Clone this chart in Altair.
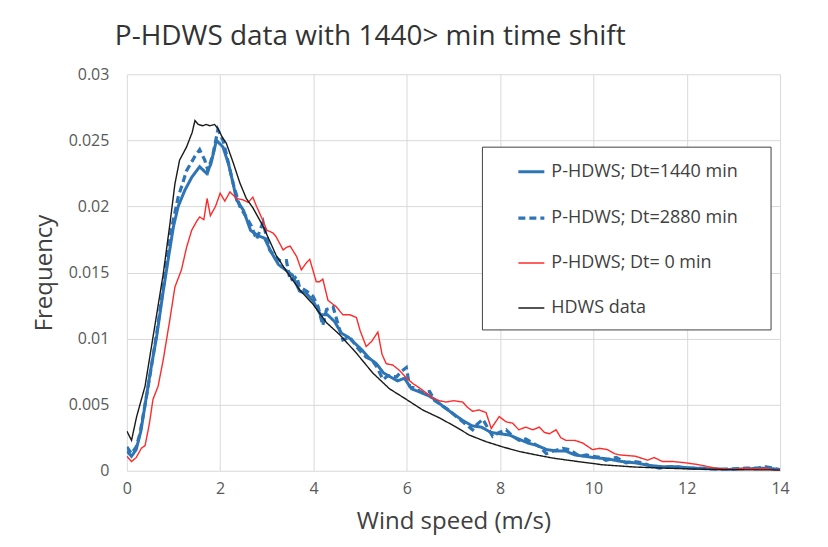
import altair as alt
import pandas as pd

# ---------------- data ----------------
series_names = ["P-HDWS; Dt=1440 min", "P-HDWS; Dt=2880 min", "P-HDWS; Dt= 0 min", "HDWS data"]

x_1440 = [0, 0.1, 0.2, 0.3, 0.4, 0.5, 0.64, 0.78, 0.9, 1.0, 1.1, 1.24, 1.39, 1.56, 1.71, 1.8, 1.92, 2.06,
          2.18, 2.28, 2.35, 2.5, 2.65, 2.8, 2.95, 3.1, 3.25, 3.4, 3.55, 3.7, 3.85, 4.0, 4.15, 4.3, 4.45,
          4.6, 4.75, 4.9, 5.05, 5.2, 5.35, 5.5, 5.65, 5.8, 5.95, 6.1, 6.25, 6.45, 6.6, 6.8, 7.0, 7.2,
          7.4, 7.6, 7.8, 8.0, 8.2, 8.4, 8.6, 8.8, 9.0, 9.2, 9.4, 9.6, 9.8, 10.0, 10.3, 10.6, 10.9, 11.2,
          11.5, 11.8, 12.1, 12.5, 12.9, 13.3, 13.7, 14]
y_1440 = [0.0015, 0.0011, 0.0016, 0.0030, 0.0052, 0.0074, 0.0102, 0.0136, 0.0163, 0.0185, 0.0200, 0.0212,
          0.0222, 0.0230, 0.0225, 0.0232, 0.0250, 0.0245, 0.0232, 0.0217, 0.0205, 0.0197, 0.0182, 0.0178,
          0.0176, 0.0165, 0.0156, 0.0152, 0.0148, 0.0136, 0.0134, 0.0128, 0.0118, 0.0118, 0.0113, 0.0104,
          0.0101, 0.0096, 0.0091, 0.0085, 0.0081, 0.0074, 0.0071, 0.0068, 0.0070, 0.0062, 0.0060, 0.0057,
          0.0054, 0.0048, 0.0043, 0.0038, 0.0034, 0.0033, 0.0029, 0.0028, 0.0027, 0.0024, 0.0021, 0.0019,
          0.0016, 0.0015, 0.0015, 0.0012, 0.0011, 0.0010, 0.0009, 0.0007, 0.0006, 0.0004, 0.0003, 0.0003,
          0.0002, 0.00015, 0.0001, 0.00015, 0.0002, 0.0001]

x_2880 = [0, 0.1, 0.2, 0.28, 0.38, 0.49, 0.64, 0.78, 0.88, 0.95, 1.1, 1.28, 1.46, 1.56, 1.67, 1.74, 1.85,
          1.95, 2.06, 2.13, 2.28, 2.42, 2.56, 2.67, 2.78, 2.92, 3.06, 3.18, 3.28, 3.42, 3.5, 3.64, 3.7,
          3.85, 3.99, 4.1, 4.2, 4.28, 4.42, 4.55, 4.63, 4.78, 4.92, 5.02, 5.13, 5.25, 5.35, 5.49, 5.6,
          5.78, 5.88, 5.99, 6.06, 6.2, 6.34, 6.49, 6.6, 6.77, 6.9, 7.06, 7.2, 7.41, 7.5, 7.63, 7.84,
          7.98, 8.13, 8.27, 8.41, 8.55, 8.7, 8.85, 8.99, 9.15, 9.34, 9.49, 9.7, 9.85, 9.98, 10.15,
          10.27, 10.49, 10.7, 10.85, 11.05, 11.2, 11.41, 11.6, 11.77, 12.0, 12.27, 12.5, 12.7, 13.0,
          13.27, 13.5, 13.7, 13.85, 14]
y_2880 = [0.0018, 0.0013, 0.0018, 0.0028, 0.0048, 0.0071, 0.0104, 0.0139, 0.0165, 0.0182, 0.0207, 0.0227,
          0.0238, 0.0243, 0.0235, 0.0227, 0.0240, 0.0258, 0.0250, 0.0240, 0.0217, 0.0200, 0.0192, 0.0185,
          0.0175, 0.0188, 0.0167, 0.0162, 0.0159, 0.0159, 0.0144, 0.0147, 0.0139, 0.0136, 0.0132, 0.0124,
          0.0110, 0.0122, 0.0124, 0.0108, 0.0099, 0.0101, 0.0094, 0.0090, 0.0086, 0.0084, 0.0079, 0.0069,
          0.0072, 0.0071, 0.0075, 0.0078, 0.0064, 0.0062, 0.0059, 0.0060, 0.0053, 0.0049, 0.0046, 0.0041,
          0.0037, 0.0031, 0.0035, 0.0039, 0.0026, 0.0029, 0.0031, 0.0026, 0.0023, 0.0024, 0.0021, 0.0018,
          0.0013, 0.0015, 0.0017, 0.0016, 0.0011, 0.0012, 0.0011, 0.0010, 0.0008, 0.0010, 0.0006, 0.0007,
          0.0006, 0.0004, 0.0002, 0.0003, 0.0003, 0.0002, 0.0002, 0.00015, 0.0001, 0.00015, 0.0002, 0.0002,
          0.0003, 0.0002, 0.00005]

x_0 = [0, 0.1, 0.2, 0.31, 0.39, 0.48, 0.56, 0.67, 0.78, 0.92, 1.03, 1.17, 1.28, 1.39, 1.5, 1.56, 1.65, 1.72,
       1.79, 1.9, 2.0, 2.1, 2.21, 2.35, 2.49, 2.6, 2.7, 2.78, 2.92, 3.0, 3.13, 3.2, 3.35, 3.42, 3.5, 3.64,
       3.74, 3.84, 3.92, 4.06, 4.13, 4.2, 4.31, 4.49, 4.63, 4.78, 4.92, 5.0, 5.13, 5.25, 5.38, 5.47, 5.56,
       5.7, 5.84, 6.0, 6.13, 6.3, 6.56, 6.7, 6.84, 7.0, 7.2, 7.3, 7.41, 7.55, 7.7, 7.81, 7.98, 8.13, 8.27,
       8.4, 8.55, 8.7, 8.84, 8.95, 9.06, 9.2, 9.3, 9.41, 9.6, 9.77, 9.98, 10.13, 10.3, 10.45, 10.56, 10.9,
       11.16, 11.3, 11.48, 11.7, 11.98, 12.27, 12.6, 12.98, 13.27, 13.5, 13.7, 13.9, 14]
y_0 = [0.0011, 0.0007, 0.0010, 0.0017, 0.0019, 0.0035, 0.0054, 0.0064, 0.0084, 0.0114, 0.0139, 0.0152,
       0.0169, 0.0182, 0.0189, 0.0192, 0.0190, 0.0206, 0.0193, 0.0200, 0.0210, 0.0204, 0.0211, 0.0206,
       0.0205, 0.0203, 0.0207, 0.0200, 0.0189, 0.0182, 0.0180, 0.0177, 0.0167, 0.0169, 0.0170, 0.0162,
       0.0152, 0.0157, 0.0160, 0.0143, 0.0143, 0.0145, 0.0129, 0.0124, 0.0118, 0.0118, 0.0116, 0.0106,
       0.0094, 0.0098, 0.0105, 0.0088, 0.0081, 0.0080, 0.0076, 0.0070, 0.0066, 0.0062, 0.0055, 0.0053,
       0.0052, 0.0053, 0.0052, 0.0048, 0.0045, 0.0046, 0.0044, 0.0032, 0.0041, 0.0037, 0.0036, 0.0031,
       0.0033, 0.0031, 0.0033, 0.0029, 0.0028, 0.0031, 0.0025, 0.0023, 0.0023, 0.0021, 0.0016, 0.0017,
       0.0016, 0.0013, 0.0012, 0.0011, 0.0008, 0.0010, 0.0007, 0.0007, 0.0006, 0.00045, 0.0002, 0.0001,
       0.0002, 0.00015, 0.0002, 0.00002, 0.0001]

x_hdws = [0, 0.1, 0.21, 0.39, 0.56, 0.78, 0.92, 1.03, 1.13, 1.28, 1.4, 1.46, 1.53, 1.63, 1.7, 1.78, 1.88,
          1.95, 2.05, 2.13, 2.28, 2.42, 2.56, 2.7, 2.92, 3.2, 3.42, 3.7, 3.99, 4.28, 4.56, 4.92, 5.27, 5.63,
          5.99, 6.34, 6.7, 7.06, 7.34, 7.7, 8.06, 8.41, 8.77, 9.13, 9.49, 10.2, 10.9, 11.5, 12, 12.5, 13,
          13.5, 14]
y_hdws = [0.0030, 0.0023, 0.0041, 0.0064, 0.0101, 0.0149, 0.0186, 0.0217, 0.0235, 0.0245, 0.0256, 0.0265,
          0.0262, 0.0261, 0.0262, 0.0261, 0.0262, 0.0259, 0.0252, 0.0248, 0.0233, 0.0218, 0.0206, 0.0199,
          0.0185, 0.0163, 0.0151, 0.0137, 0.0126, 0.0112, 0.0103, 0.0089, 0.0074, 0.0062, 0.0054, 0.0046,
          0.0040, 0.0033, 0.0027, 0.0022, 0.0018, 0.00146, 0.0012, 0.00096, 0.00078, 0.00045, 0.00028,
          0.0002, 0.00015, 0.0001, 0.00008, 0.00006, 0.00005]

x_ticks = [0, 2, 4, 6, 8, 10, 12, 14]
y_ticks = [0, 0.005, 0.01, 0.015, 0.02, 0.025, 0.03]

# ---------------- build long table ----------------
frames = []
for name, xs, ys in zip(series_names, [x_1440, x_2880, x_0, x_hdws], [y_1440, y_2880, y_0, y_hdws]):
    frames.append(pd.DataFrame({"speed": xs, "freq": ys, "series": name}))
df = pd.concat(frames, ignore_index=True)

colors = ["#2e75b6", "#2e75b6", "#ff2a2a", "#1a1a1a"]
dashes = [[1, 0], [7, 4], [1, 0], [1, 0]]
widths = [3.0, 3.2, 1.4, 1.4]

FONT = "Open Sans"

lines = alt.Chart(df).mark_line(clip=True).encode(
    x=alt.X("speed:Q", title="Wind speed (m/s)",
            scale=alt.Scale(domain=[0, 14], nice=False),
            axis=alt.Axis(values=x_ticks, labelPadding=10, titlePadding=13, labelFlush=False,
                          labelFontSize=16, titleFontSize=24)),
    y=alt.Y("freq:Q", title="Frequency",
            scale=alt.Scale(domain=[0, 0.03], nice=False),
            axis=alt.Axis(values=y_ticks, format="~g", labelPadding=18, titlePadding=12,
                          labelFontSize=16, titleFontSize=24)),
    color=alt.Color("series:N", scale=alt.Scale(domain=series_names, range=colors),
                    legend=alt.Legend(orient="none", legendX=390, legendY=83, title=None,
                                      symbolType="stroke", symbolSize=676, labelFontSize=18,
                                      labelFont=FONT, labelColor="#404040", labelOffset=5,
                                      rowPadding=22, padding=0, labelLimit=400)),
    strokeDash=alt.StrokeDash("series:N", scale=alt.Scale(domain=series_names, range=dashes)),
    strokeWidth=alt.StrokeWidth("series:N", scale=alt.Scale(type="ordinal", domain=series_names, range=widths)),
)

legend_box = alt.Chart(pd.DataFrame({"a": [0]})).mark_rect(
    fill="white", stroke="#404040", strokeWidth=1
).encode(x=alt.value(356), x2=alt.value(645), y=alt.value(73), y2=alt.value(256))

chart = alt.layer(legend_box, lines).properties(
    width=654, height=397,
    padding={"left": 119, "top": 66, "right": 40, "bottom": 76},
    autosize=alt.AutoSizeParams(type="none"),
    title=alt.TitleParams("P-HDWS data with 1440> min time shift", anchor="start", frame="group",
                          dx=-12, offset=15, fontSize=28, font=FONT, fontWeight="normal", color="#333333"),
).configure_axis(
    grid=True, gridColor="#d9d9d9", gridWidth=1, domain=False, ticks=False, tickSize=0,
    labelFont=FONT, labelFontSize=16, labelColor="#595959",
    titleFont=FONT, titleFontSize=24, titleFontWeight="normal", titleColor="#404040",
).configure_view(stroke=None)

chart.save("out.html", embed_options={"renderer": "svg", "actions": False})
